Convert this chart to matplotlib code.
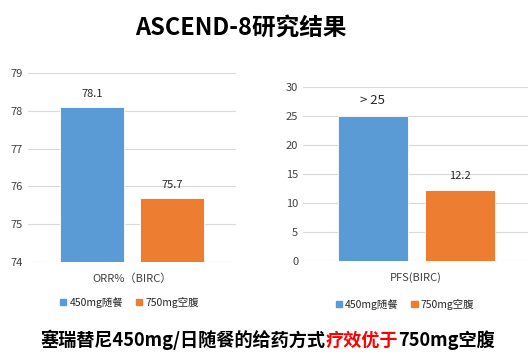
import matplotlib
matplotlib.use('Agg')
import matplotlib.pyplot as plt
from matplotlib.patches import Patch

plt.rcParams['font.family'] = ['Noto Sans CJK SC', 'DejaVu Sans']

# ======== Data ========
series = ["450mg随餐", "750mg空腹"]
colors = ["#5B9BD5", "#ED7D31"]

orr_label = "ORR%（BIRC）"
orr_values = [78.1, 75.7]
orr_text = ["78.1", "75.7"]
orr_ticks = [74, 75, 76, 77, 78, 79]

pfs_label = "PFS(BIRC)"
pfs_values = [25, 12.2]
pfs_text = ["> 25", "12.2"]
pfs_ticks = [0, 5, 10, 15, 20, 25, 30]

title = "ASCEND-8研究结果"
footer_parts = [("塞瑞替尼450mg/日随餐的给药方式", "black"),
                ("疗效优于", "#FF0000"),
                ("750mg空腹", "black")]

# ======== Figure ========
fig = plt.figure(figsize=(5.28, 3.57), dpi=100)
ax1 = fig.add_axes([0.053, 0.266, 0.394, 0.530])
ax2 = fig.add_axes([0.574, 0.269, 0.428, 0.487])

offsets = [-0.385, 0.385]
width = 0.62


def draw_panel(ax, values, texts, ticks, label, pad, sizes):
    for off, v, t, c, fs in zip(offsets, values, texts, colors, sizes):
        ax.bar(off, v - ticks[0], bottom=ticks[0], width=width, color=c,
               edgecolor="white", linewidth=0.6, zorder=3)
        ax.text(off, v + pad, t, ha="center", va="bottom", fontsize=fs,
                color="#262626")
    ax.set_xlim(-1, 1)
    ax.set_ylim(ticks[0], ticks[-1])
    ax.set_yticks(ticks)
    ax.set_xticks([0])
    ax.set_xticklabels([label], fontsize=7.5, color="#404040")
    ax.tick_params(axis="both", length=0, labelsize=8, colors="#404040")
    ax.tick_params(axis="x", pad=8)
    ax.grid(axis="y", color="#D9D9D9", linewidth=0.8, zorder=0)
    for s in ax.spines.values():
        s.set_visible(False)


draw_panel(ax1, orr_values, orr_text, orr_ticks, orr_label, 0.2, [8, 8])
draw_panel(ax2, pfs_values, pfs_text, pfs_ticks, pfs_label, 1.6, [9.5, 8])

handles = [Patch(color=c, label=s) for c, s in zip(colors, series)]
leg_kw = dict(frameon=False, fontsize=7.5, ncol=2, handlelength=0.6,
              handleheight=0.6, handletextpad=0.3, columnspacing=1.2,
              labelcolor="#262626")
fig.legend(handles=handles, loc="center", bbox_to_anchor=(0.245, 1 - 302 / 357), **leg_kw)
fig.legend(handles=handles, loc="center", bbox_to_anchor=(0.767, 1 - 304 / 357), **leg_kw)

fig.text(0.456, 1 - 28 / 357, title, ha="center", va="center",
         fontsize=17, fontweight="bold", color="black")

# footer with red highlight, drawn piece by piece
fig.canvas.draw()
renderer = fig.canvas.get_renderer()
pieces = []
for txt, col in footer_parts:
    pieces.append(fig.text(0, 1 - 340 / 357, txt, ha="left", va="center",
                           fontsize=13.1, fontweight="bold", color=col))
widths = [p.get_window_extent(renderer).width for p in pieces]
total = sum(widths)
x = 268 - total / 2
for p, w in zip(pieces, widths):
    p.set_x(x / 528)
    x += w

fig.savefig("out.png", dpi=100)
